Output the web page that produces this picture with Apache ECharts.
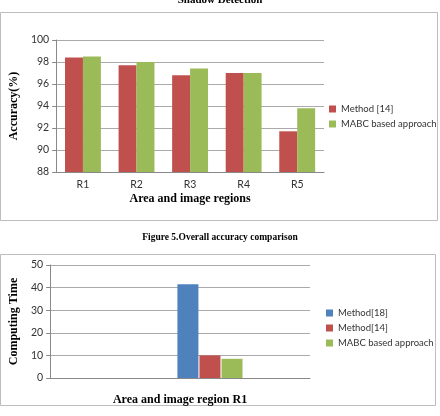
<!DOCTYPE html>
<html>
<head>
<meta charset="utf-8">
<script src="https://cdn.jsdelivr.net/npm/echarts@6/dist/echarts.min.js"></script>
<style>
  html, body { margin: 0; padding: 0; background: #fff; }
  #chart { width: 440px; height: 416px; }
</style>
</head>
<body>
<div id="chart"></div>
<script>
// accuracy chart (top)
var regions = ['R1', 'R2', 'R3', 'R4', 'R5']
var method14Acc = [98.4, 97.7, 96.8, 97.0, 91.7]
var mabcAcc = [98.5, 98.0, 97.4, 97.0, 93.8]

// computing time chart (bottom)
var timeRegion = ['R1']
var method18Time = [41.5]
var method14Time = [10]
var mabcTime = [8.5]
var emptySlot = [null]   // excel left empty series in front of the bars

var serif = '"Liberation Serif", "Times New Roman", serif'
var sans = 'Lato, "Open Sans", sans-serif'
var red = '#c0504d', green = '#9bbb59', blue = '#4f81bd'

var chart = echarts.init(document.getElementById('chart'))

function valAxis (gridIndex, min, max, interval, name) {
  return {
    type: 'value', gridIndex: gridIndex, min: min, max: max, interval: interval,
    name: name, nameLocation: 'middle', nameGap: gridIndex === 0 ? 31 : 22,
    nameTextStyle: { fontFamily: serif, fontWeight: 'bold', fontSize: 12, color: '#000' },
    axisLine: { show: true, lineStyle: { color: '#888' } },
    axisTick: { show: true, length: 4, lineStyle: { color: '#888' } },
    axisLabel: { fontFamily: sans, fontSize: 10.5, color: '#333', margin: 7 },
    splitLine: { lineStyle: { color: '#aaa' } }
  }
}

var option = {
  animation: false,
  backgroundColor: '#fff',
  title: [
    { text: 'Shadow Detection', left: 'center', top: -10,
      textStyle: { fontFamily: serif, fontWeight: 'bold', fontSize: 11, color: '#000' } },
    { text: 'Figure 5.Overall accuracy comparison', left: 'center', top: 228,
      textStyle: { fontFamily: serif, fontWeight: 'bold', fontSize: 9.5, color: '#000' } }
  ],
  graphic: [
    { type: 'rect', shape: { x: 0.5, y: 12.5, width: 437, height: 208 },
      style: { fill: null, stroke: '#bdbdbd', lineWidth: 1 } },
    { type: 'rect', shape: { x: 0.5, y: 254.5, width: 435, height: 151 },
      style: { fill: null, stroke: '#bdbdbd', lineWidth: 1 } }
  ],
  legend: [
    { data: ['Method [14]', 'MABC based approach'], orient: 'vertical', left: 324, top: 99,
      itemWidth: 7, itemHeight: 7, itemGap: 5, icon: 'rect',
      textStyle: { fontFamily: sans, fontSize: 9.5, color: '#333' } },
    { data: ['Method[18]', 'Method[14]', 'MABC based approach '], orient: 'vertical', left: 321, top: 303,
      itemWidth: 7, itemHeight: 7, itemGap: 5, icon: 'rect',
      textStyle: { fontFamily: sans, fontSize: 9.5, color: '#333' } }
  ],
  grid: [
    { left: 48, top: 40, width: 276, height: 132 },
    { left: 42, top: 265, width: 268, height: 113 }
  ],
  xAxis: [
    { type: 'category', gridIndex: 0, data: regions,
      name: 'Area and image regions', nameLocation: 'middle', nameGap: 21,
      nameTextStyle: { fontFamily: serif, fontWeight: 'bold', fontSize: 12, color: '#000' },
      axisLine: { lineStyle: { color: '#888' } },
      axisTick: { length: 4, lineStyle: { color: '#888' } },
      axisLabel: { fontFamily: sans, fontSize: 10.5, color: '#333', margin: 7 } },
    { type: 'category', gridIndex: 1, data: timeRegion,
      name: 'Area and image region R1', nameLocation: 'middle', nameGap: 16,
      nameTextStyle: { fontFamily: serif, fontWeight: 'bold', fontSize: 12, color: '#000' },
      axisLine: { lineStyle: { color: '#888' } },
      axisTick: { show: false },
      axisLabel: { show: false } }
  ],
  yAxis: [
    valAxis(0, 88, 100, 2, 'Accuracy(%)'),
    valAxis(1, 0, 50, 10, 'Computing Time')
  ],
  series: [
    { name: 'Method [14]', type: 'bar', xAxisIndex: 0, yAxisIndex: 0, data: method14Acc,
      itemStyle: { color: red }, barGap: '0%', barCategoryGap: '33%' },
    { name: 'MABC based approach', type: 'bar', xAxisIndex: 0, yAxisIndex: 0, data: mabcAcc,
      itemStyle: { color: green } },

    { name: 'e1', type: 'bar', xAxisIndex: 1, yAxisIndex: 1, data: emptySlot, barWidth: 19, barGap: '5%' },
    { name: 'e2', type: 'bar', xAxisIndex: 1, yAxisIndex: 1, data: emptySlot, barWidth: 19 },
    { name: 'e3', type: 'bar', xAxisIndex: 1, yAxisIndex: 1, data: emptySlot, barWidth: 19 },
    { name: 'Method[18]', type: 'bar', xAxisIndex: 1, yAxisIndex: 1, data: method18Time,
      itemStyle: { color: blue }, barWidth: 21 },
    { name: 'Method[14]', type: 'bar', xAxisIndex: 1, yAxisIndex: 1, data: method14Time,
      itemStyle: { color: red }, barWidth: 21 },
    { name: 'MABC based approach ', type: 'bar', xAxisIndex: 1, yAxisIndex: 1, data: mabcTime,
      itemStyle: { color: green }, barWidth: 21 }
  ]
}

chart.setOption(option)
</script>
</body>
</html>
